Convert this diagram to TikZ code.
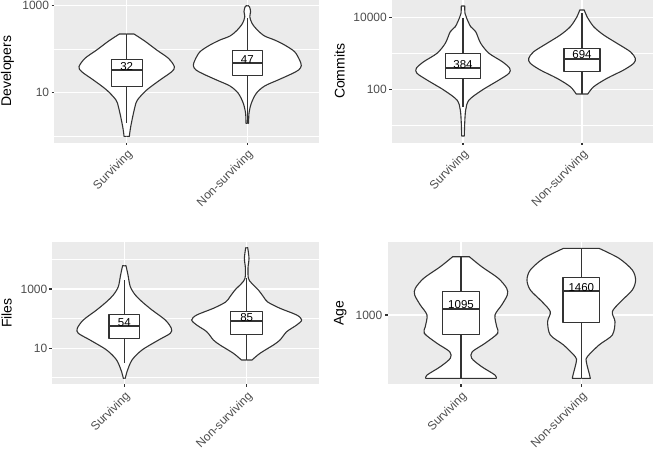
\documentclass[tikz,border=0pt]{standalone}
\usepackage{fontspec}
\setmainfont{Liberation Sans}
\definecolor{panelgray}{HTML}{EBEBEB}
\definecolor{tickgray}{HTML}{4D4D4D}
\definecolor{linegray}{HTML}{333333}
\newcommand{\tickfont}{\fontsize{12}{14}\selectfont}
\newcommand{\titlefont}{\fontsize{14}{16}\selectfont}
\newcommand{\boxfont}{\fontsize{11.5}{13}\selectfont}
% violin: center x, top y, bottom y, left outline (offset from center)
\newcommand{\violin}[4]{%
  \foreach \s in {1,-1}{
    \begin{scope}[shift={(#1,0)},xscale=\s]
      \fill[white] (0,#2) -- plot[smooth] coordinates {#4} -- (0,#3) -- cycle;
    \end{scope}}
  \foreach \s in {1,-1}{
    \begin{scope}[shift={(#1,0)},xscale=\s]
      \draw[vio] (0,#2) -- plot[smooth] coordinates {#4} -- (0,#3);
    \end{scope}}}
% box: center x, half width, top, bottom, median, whisker top, whisker bottom, label, label y
\newcommand{\boxwhisker}[9]{%
  \draw[vio] (#1,#6) -- (#1,#7);
  \draw[vio,fill=white] (#1-#2,#3) rectangle (#1+#2,#4);
  \draw[vio,line width=2.2pt] (#1-#2,#5) -- (#1+#2,#5);
  \node[boxlab] (lab#8) at (#1,#9) {#8};}

\begin{document}
\begin{tikzpicture}[x=1pt,y=-1pt,
  vio/.style={draw=linegray,line width=1.1pt,line join=round},
  major/.style={white,line width=1.1pt},
  minor/.style={white,line width=.55pt},
  tickmark/.style={linegray,line width=1.1pt},
  ylab/.style={font=\tickfont,text=tickgray,anchor=east,inner sep=0pt},
  xlab/.style={font=\tickfont,text=tickgray,anchor=north east,rotate=45,inner sep=0pt},
  ytitle/.style={font=\titlefont,rotate=90,inner sep=0pt},
  boxlab/.style={font=\boxfont,inner sep=0pt}]
  \useasboundingbox (0,0) rectangle (654,451);

  % Developers
  \fill[panelgray] (54.3,0) rectangle (319.3,142.7);
  \foreach \y in {49.3,136.3} \draw[minor] (54.3,\y) -- (319.3,\y);
  \foreach \y in {5.7,92.7} \draw[major] (54.3,\y) -- (319.3,\y);
  \foreach \x in {126.7,247.3} \draw[major] (\x,0) -- (\x,142.7);
  \foreach \y/\t in {5.7/1000,92.7/10}{
    \draw[tickmark] (51.6,\y) -- (54.3,\y);
    \node[ylab] (dev\t) at (49.3,\y) {\t};}
  \foreach \x/\t [count=\i] in {126.7/Surviving,247.3/Non-surviving}{
    \draw[tickmark] (\x,142.7) -- (\x,145.4);
    \node[xlab] (devx\i) at (\x,148.7) {\t};}
  \node[ytitle] (devtitle) at (7.5,71.3) {Developers};
  \violin{126.7}{34}{136.3}{(-7.3,34) (-18,41) (-30,50) (-41.7,58.3) (-47.7,66.7) (-45,71.7) (-33.3,80) (-20,90) (-10.7,100) (-8.3,106.7) (-6,116.7) (-4,126.7) (-3,133.3) (-2.7,136.3)}
  \violin{247.3}{5.7}{123.3}{(-1,5.7) (-2.3,7) (-3.3,11.7) (-2.5,16.7) (-4.7,23.3) (-10,30) (-17.3,36) (-27.3,40) (-37.3,45) (-47.3,51.7) (-52.3,60) (-54,65.7) (-51.3,70) (-44,74) (-30.7,80) (-17.3,86) (-9,93.3) (-4,103.3) (-1.7,113.3) (-1.3,123.3)}
  \boxwhisker{126.7}{15.5}{59.3}{86.7}{70.3}{34}{123.3}{32}{66.7}
  \boxwhisker{247.3}{15.2}{50.3}{75.3}{63}{18.3}{123.3}{47}{60}

  % Commits
  \fill[panelgray] (392,0) rectangle (653,142.7);
  \foreach \y in {53.3,125.3} \draw[minor] (392,\y) -- (653,\y);
  \foreach \y in {17.3,89.3} \draw[major] (392,\y) -- (653,\y);
  \foreach \x in {463,582} \draw[major] (\x,0) -- (\x,142.7);
  \foreach \y/\t in {17.3/10000,89.3/100}{
    \draw[tickmark] (389.3,\y) -- (392,\y);
    \node[ylab] (com\t) at (387,\y) {\t};}
  \foreach \x/\t [count=\i] in {463/Surviving,582/Non-surviving}{
    \draw[tickmark] (\x,142.7) -- (\x,145.4);
    \node[xlab] (comx\i) at (\x,148.7) {\t};}
  \node[ytitle] (comtitle) at (339.7,71.3) {Commits};
  \violin{463}{6}{136}{(-1.7,6) (-2,13.3) (-3.7,18.3) (-7.7,26.7) (-12.7,31.7) (-17.7,43.3) (-26,53.3) (-39.3,61.7) (-46.7,68.3) (-46,73.3) (-36,80) (-19.3,90) (-6,100) (-2.7,110) (-1.7,123.3) (-1.3,136)}
  \violin{582}{10}{94}{(-2.3,10) (-5,16.7) (-11.7,26.7) (-21.7,35) (-35,43.3) (-48.3,51.7) (-53.3,58.3) (-51.7,63.3) (-41.7,70) (-25,78.3) (-11.7,86.7) (-5.8,94)}
  \boxwhisker{463}{17.8}{53.3}{78.3}{67.7}{18.3}{106.7}{384}{64.3}
  \boxwhisker{582}{18}{48.3}{71.7}{59.3}{13.3}{94}{694}{54.3}

  % Files
  \fill[panelgray] (51.7,241.7) rectangle (319.3,384.3);
  \foreach \y in {259.3,318.7,377.7} \draw[minor] (51.7,\y) -- (319.3,\y);
  \foreach \y in {289,348.3} \draw[major] (51.7,\y) -- (319.3,\y);
  \foreach \x in {124.3,246.7} \draw[major] (\x,241.7) -- (\x,384.3);
  \foreach \y/\t in {289/1000,348.3/10}{
    \draw[tickmark] (49,\y) -- (51.7,\y);
    \node[ylab] (fil\t) at (47.5,\y) {\t};}
  \foreach \x/\t [count=\i] in {124.3/Surviving,246.7/Non-surviving}{
    \draw[tickmark] (\x,384.3) -- (\x,387);
    \node[xlab] (filx\i) at (\x,390.3) {\t};}
  \node[ytitle] (filtitle) at (6.7,313) {Files};
  \violin{124.3}{265.7}{378.3}{(-1.7,265.7) (-3.7,275) (-6,286.7) (-11,295) (-17.7,301.7) (-27.7,310) (-41,320) (-47,328.3) (-46,333.3) (-34.3,340) (-17.7,350) (-7.7,360) (-2.7,371.7) (-1,378.3)}
  \violin{246.7}{247.7}{360}{(-1,247.7) (-2.3,258.3) (-1.3,268) (-1.7,278.3) (-5,283.3) (-11.7,290) (-16.7,296.7) (-21,302) (-33.3,308.3) (-50,315) (-55,320) (-50,325) (-40,331.7) (-33.3,340) (-26.7,345) (-13.3,353.3) (-5.3,360)}
  \boxwhisker{124.3}{15.3}{314.3}{338.3}{326}{280}{363.3}{54}{322.7}
  \boxwhisker{246.7}{15.8}{311.3}{334.3}{321}{278.3}{360}{85}{317.3}

  % Age
  \fill[panelgray] (388,241.7) rectangle (653,384.3);
  \draw[major] (388,315) -- (653,315);
  \foreach \x in {461,581.3} \draw[major] (\x,241.7) -- (\x,384.3);
  \draw[tickmark] (385.3,315) -- (388,315);
  \node[ylab] (age1000) at (382.5,315) {1000};
  \foreach \x/\t [count=\i] in {461/Surviving,581.3/Non-surviving}{
    \draw[tickmark] (\x,384.3) -- (\x,387);
    \node[xlab] (agex\i) at (\x,390.3) {\t};}
  \node[ytitle] (agetitle) at (340.3,313) {Age};
  \violin{461}{256.7}{378.3}{(-8.3,256.7) (-20.7,266.7) (-37.3,278.3) (-45.7,288.3) (-46.3,295) (-40.7,305) (-34,315) (-35.7,326.7) (-36.7,333.3) (-24,343.3) (-11.3,351.7) (-10.7,358.3) (-20.7,366.7) (-34,375) (-35.3,378.3)}
  \violin{581.3}{248.3}{378.3}{(-17.7,248.3) (-37.7,258.3) (-51,270) (-54.3,280) (-51,290) (-39.3,301.7) (-31,311.7) (-33.7,321.7) (-31,335) (-17.7,345) (-6,356.7) (-5,361.7) (-8.3,375) (-9,378.3)}
  \boxwhisker{461}{18.3}{291.3}{334.3}{309}{256.7}{378.3}{1095}{305}
  \boxwhisker{581.3}{18.3}{277.3}{322.3}{291}{248.3}{378.3}{1460}{287.3}
\end{tikzpicture}
\end{document}
